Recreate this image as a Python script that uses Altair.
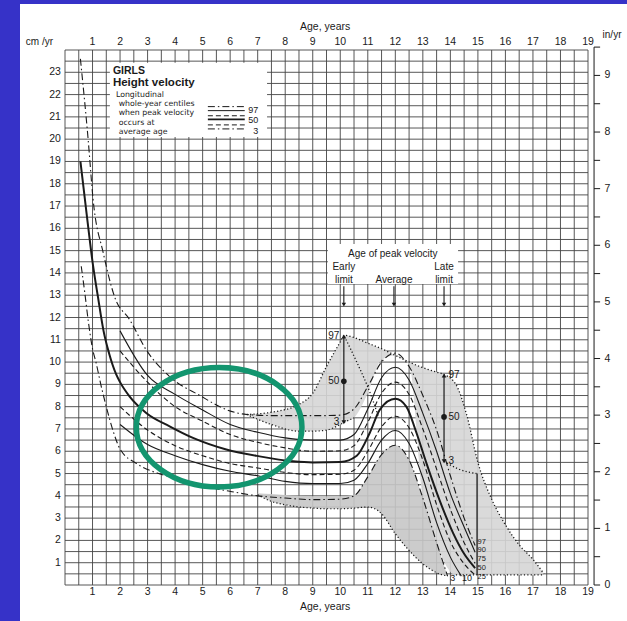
import altair as alt
import pandas as pd

# ---------------- values ----------------
AGE_LABELS = list(range(1, 20))     # age ticks, years
CM_LABELS = list(range(1, 24))      # left ticks, cm/yr
IN_LABELS = list(range(0, 10))      # right ticks, in/yr

# whole-year centile curves: age (years) and velocity (cm/yr)
P97_AGE = [0.56, 0.84, 1.02, 1.39, 1.81, 2.35, 2.95, 3.8, 4.9, 5.9, 6.6, 7.5, 8.5, 9.5,
           10.0, 10.5, 11.0, 11.5, 12.0, 12.5, 13.0, 13.5, 14.0, 14.5, 14.9]
P97_CM = [23.6, 20.0, 17.3, 14.9, 12.9, 11.9, 10.55, 9.35, 8.5, 7.85, 7.65, 7.6, 7.6, 7.6,
          7.62, 7.9, 8.9, 10.0, 10.4, 9.8, 8.5, 6.95, 4.9, 3.0, 1.77]

P90_AGE = [2.0, 3.0, 4.0, 5.0, 6.0, 7.0, 8.0, 9.0, 10.0, 10.5, 11.0, 11.5, 12.0, 12.5,
           13.0, 13.5, 14.0, 14.5, 14.9]
P90_CM = [11.4, 9.4, 8.55, 7.85, 7.2, 6.85, 6.6, 6.5, 6.5, 6.75, 7.9, 9.3, 9.77, 9.2,
          7.7, 6.0, 4.1, 2.6, 1.47]

P75_AGE = [2.0, 3.0, 4.0, 5.0, 6.0, 7.0, 8.0, 9.0, 10.0, 10.5, 11.0, 11.5, 12.0, 12.5,
           13.0, 13.5, 14.0, 14.5, 14.9]
P75_CM = [10.5, 9.1, 8.0, 7.35, 6.75, 6.4, 6.15, 6.0, 6.02, 6.25, 7.3, 8.6, 9.1, 8.55,
          7.0, 5.2, 3.4, 1.9, 0.97]

P50_AGE = [0.56, 0.8, 1.0, 1.2, 1.4, 1.6, 1.86, 2.0, 2.35, 2.95, 3.8, 4.65, 5.86, 7.07,
           8.28, 9.0, 10.0, 10.6, 11.07, 11.44, 12.0, 12.4, 12.77, 13.13, 13.6, 14.1, 14.5, 14.9]
P50_CM = [19.0, 16.5, 14.5, 12.9, 11.4, 10.4, 9.45, 9.1, 8.45, 7.72, 7.12, 6.6, 6.08, 5.77,
          5.55, 5.5, 5.52, 5.8, 6.82, 7.87, 8.35, 8.0, 6.82, 5.47, 3.83, 2.33, 1.4, 0.76]

P25_AGE = [2.0, 3.0, 4.0, 5.0, 6.0, 7.0, 8.0, 9.0, 10.0, 10.5, 11.0, 11.5, 12.0, 12.5,
           13.0, 13.5, 14.0, 14.5, 14.9]
P25_CM = [8.0, 6.95, 6.25, 5.8, 5.45, 5.25, 5.05, 4.95, 4.97, 5.15, 6.0, 7.1, 7.57, 7.05,
          5.6, 3.6, 1.95, 0.95, 0.45]

P10_AGE = [2.0, 3.0, 4.0, 5.0, 6.0, 7.0, 8.0, 9.0, 10.0, 10.5, 11.0, 11.5, 12.0, 12.5,
           13.0, 13.5, 14.0, 14.4]
P10_CM = [7.2, 6.3, 5.8, 5.4, 5.1, 4.9, 4.65, 4.55, 4.55, 4.7, 5.45, 6.5, 6.93, 6.35,
          4.8, 2.8, 1.25, 0.4]

P3_AGE = [0.59, 0.72, 0.85, 1.0, 1.13, 1.3, 1.5, 1.75, 2.0, 2.6, 3.4, 4.0, 5.0, 6.0, 7.0,
          8.0, 9.0, 10.0, 10.5, 11.0, 11.5, 12.0, 12.5, 13.0, 13.5, 13.9]
P3_CM = [14.3, 13.1, 11.8, 10.6, 9.97, 9.0, 8.0, 6.9, 6.1, 5.45, 5.0, 4.8, 4.45, 4.2, 4.0,
         3.9, 3.83, 3.85, 4.0, 4.85, 5.85, 6.27, 5.6, 3.9, 1.9, 0.4]

# spread of peak timing (stippled zone): upper envelope and lower edge
ZONE_AGE = [6.6, 7.5, 8.5, 9.0, 9.5, 10.0, 10.15, 10.5, 11.0, 11.5, 12.0, 12.5, 13.0,
            13.5, 13.75, 14.2, 14.6, 15.0, 15.5, 16.0, 16.5, 17.0, 17.4]
ZONE_TOP = [7.65, 7.75, 8.1, 8.6, 9.8, 10.9, 11.2, 11.1, 10.85, 10.6, 10.3, 10.0, 9.75,
            9.55, 9.45, 9.0, 7.6, 5.5, 3.85, 2.7, 1.8, 1.15, 0.5]
ZONE_LOW = [7.65, 7.2, 6.9, 6.9, 6.95, 7.2, 7.3, 7.5, 8.6, 10.1, 10.3, 9.9, 3.9,
            1.9, 1.1, 0.45, 0.45, 0.45, 0.45, 0.45, 0.45, 0.45, 0.5]

# hatched zone below the 3rd centile
HATCH_AGE = [7.0, 7.5, 8.0, 8.5, 9.0, 9.5, 10.0, 10.5, 11.0, 11.5, 12.0, 12.5, 13.0, 13.5, 13.9]
HATCH_TOP = [4.12, 4.08, 4.04, 4.0, 3.98, 3.98, 3.98, 4.05, 4.85, 5.85, 6.27, 5.6, 3.9, 1.9, 0.4]
HATCH_LOW = [4.05, 3.75, 3.6, 3.5, 3.45, 3.42, 3.42, 3.45, 3.5, 3.2, 2.3, 1.55, 0.95, 0.55, 0.4]

# early maturer 97th centile descent, late limit 3rd centile link
EARLY_DESC_AGE = [10.15, 10.6, 11.13, 11.4]
EARLY_DESC_CM = [11.15, 10.0, 8.47, 7.5]
LATE_LINK_AGE = [13.77, 14.3, 14.95]
LATE_LINK_CM = [5.55, 5.2, 5.0]

# age of peak velocity: early limit, average, late limit
PEAK_AGES = [10.13, 11.95, 13.77]
EARLY_AGE = 10.13
EARLY_CENT = ["97", "50", "3"]
EARLY_CM = [11.15, 9.14, 7.3]
LATE_AGE = 13.77
LATE_CENT = ["97", "50", "3"]
LATE_CM = [9.4, 7.54, 5.55]

END_LABELS = ["97", "90", "75", "50", "25"]
END_CM = [1.95, 1.55, 1.15, 0.75, 0.35]
FOOT_LABELS = ["3", "10"]
FOOT_AGE = [14.09, 14.6]

# key text
KEY_LINES = ["Longitudinal", "whole-year centiles", "when peak velocity", "occurs at", "average age"]
KEY_CM = [21.98, 21.57, 21.16, 20.74, 20.33]
KEY_CENT = ["97", "50", "3"]
KEY_CENT_CM = [21.3, 20.84, 20.37]

# ---------------- style ----------------
BLUE = "#3632c8"
INK = "#1a1a1a"
GRID = "#444444"
TEAL = "#13956f"
FONT = "Liberation Sans"
DASHDOT = [7, 3, 1.5, 3]
DASHED = [5, 3]
DOTTED = [1.2, 2.2]

XS = alt.Scale(domain=[0, 19], nice=False, zero=False)
YS = alt.Scale(domain=[0, 24], nice=False, zero=False)


def xq(f):
    return alt.X(f, type="quantitative", scale=XS, axis=None)


def yq(f):
    return alt.Y(f, type="quantitative", scale=YS, axis=None)


def line(ages, cms, width=1.1, dash=None, color=INK, interp="monotone"):
    kw = dict(color=color, strokeWidth=width, interpolate=interp)
    if dash:
        kw["strokeDash"] = dash
    df = pd.DataFrame({"age": ages, "cm": cms})
    return alt.Chart(df).mark_line(**kw).encode(x=xq("age"), y=yq("cm"))


def vrules(ages, lo, hi, width=0.9, color=GRID):
    df = pd.DataFrame({"age": ages, "lo": lo, "hi": hi})
    return alt.Chart(df).mark_rule(color=color, strokeWidth=width).encode(
        x=xq("age"), y=yq("lo"), y2="hi")


def hrules(cms, a0, a1, width=0.9, color=GRID):
    df = pd.DataFrame({"cm": cms, "a0": a0, "a1": a1})
    return alt.Chart(df).mark_rule(color=color, strokeWidth=width).encode(
        y=yq("cm"), x=xq("a0"), x2="a1")


def text(ages, cms, labels, size=10.5, align="center", weight="normal", font=FONT):
    df = pd.DataFrame({"age": ages, "cm": cms, "t": labels})
    return alt.Chart(df).mark_text(font=font, fontSize=size, align=align, baseline="middle",
                                   fontWeight=weight, color=INK).encode(
        x=xq("age"), y=yq("cm"), text="t:N")


def box(a0, a1, c0, c1):
    df = pd.DataFrame({"a0": [a0], "a1": [a1], "c0": [c0], "c1": [c1]})
    return alt.Chart(df).mark_rect(color="white").encode(
        x=xq("a0"), x2="a1", y=yq("c0"), y2="c1")


def marks(ages, cms, shape, size=30):
    df = pd.DataFrame({"age": ages, "cm": cms})
    return alt.Chart(df).mark_point(shape=shape, filled=True, size=size, color=INK,
                                    opacity=1).encode(x=xq("age"), y=yq("cm"))


layers = []

# white sheet on the blue slide
layers.append(alt.Chart(pd.DataFrame({"k": [0]})).mark_rect(color="white").encode(
    x=alt.value(-45), x2=alt.value(562), y=alt.value(-46), y2=alt.value(571)))

# chart grid: half-year and half-centimetre lines
half_years = [i * 0.5 for i in range(0, 39)]
half_cms = [i * 0.5 for i in range(0, 49)]
layers.append(vrules(half_years, 0.0, 24.0))
layers.append(hrules(half_cms, 0.0, 19.0))

# shaded zones
zone = pd.DataFrame({"age": ZONE_AGE, "top": ZONE_TOP, "low": ZONE_LOW})
layers.append(alt.Chart(zone).mark_area(color="#d6d6d6", interpolate="monotone", opacity=0.9).encode(
    x=xq("age"), y=yq("top"), y2="low"))
hatch = pd.DataFrame({"age": HATCH_AGE, "top": HATCH_TOP, "low": HATCH_LOW})
layers.append(alt.Chart(hatch).mark_area(color="#c6c6c6", interpolate="monotone", opacity=0.9).encode(
    x=xq("age"), y=yq("top"), y2="low"))

# dotted zone outlines
layers.append(line(ZONE_AGE, ZONE_TOP, width=1.3, dash=DOTTED))
layers.append(line(ZONE_AGE[:8], ZONE_LOW[:8], width=1.2, dash=DOTTED))
layers.append(line([14.2, 17.4], [0.45, 0.45], width=1.2, dash=DOTTED, interp="linear"))
layers.append(line(HATCH_AGE, HATCH_LOW, width=1.2, dash=DOTTED))
layers.append(line(EARLY_DESC_AGE, EARLY_DESC_CM, width=1.3, dash=DOTTED))
layers.append(line(LATE_LINK_AGE, LATE_LINK_CM, width=1.3, dash=DOTTED))
layers.append(vrules([14.97], 0.45, 5.0, width=1.3, color=INK))

# white panels for the key and the peak-age note
layers.append(box(1.63, 7.34, 20.1, 23.43))
layers.append(box(9.55, 14.28, 13.5, 15.3))

# centile curves
layers.append(line(P97_AGE, P97_CM, width=1.1, dash=DASHDOT))
layers.append(line(P90_AGE, P90_CM, width=1.1))
layers.append(line(P75_AGE, P75_CM, width=1.1, dash=DASHED))
layers.append(line(P50_AGE, P50_CM, width=2.0))
layers.append(line(P25_AGE, P25_CM, width=1.1, dash=DASHED))
layers.append(line(P10_AGE, P10_CM, width=1.1))
layers.append(line(P3_AGE, P3_CM, width=1.1, dash=DASHDOT))

# early / late limit arrows
layers.append(vrules([EARLY_AGE], EARLY_CM[2], EARLY_CM[0], width=1.2, color=INK))
layers.append(vrules([LATE_AGE], LATE_CM[2], LATE_CM[0], width=1.2, color=INK))
layers.append(marks([EARLY_AGE, LATE_AGE], [EARLY_CM[0], LATE_CM[0]], "triangle-up", 22))
layers.append(marks([EARLY_AGE, LATE_AGE], [EARLY_CM[2], LATE_CM[2]], "triangle-down", 22))
layers.append(marks([EARLY_AGE, LATE_AGE], [EARLY_CM[1], LATE_CM[1]], "circle", 32))
layers.append(text([9.97] * 3, EARLY_CM, EARLY_CENT, size=10, align="right"))
layers.append(text([13.93] * 3, LATE_CM, LATE_CENT, size=10, align="left"))

# peak-age note with its three arrows
layers.append(vrules(PEAK_AGES, 12.62, 13.4, width=1.1, color=INK))
layers.append(marks(PEAK_AGES, [12.58] * 3, "triangle-down", 20))
layers.append(text([11.91], [14.85], ["Age of peak velocity"], size=10))
layers.append(text([PEAK_AGES[0], PEAK_AGES[2]], [14.25, 14.25], ["Early", "Late"], size=10))
layers.append(text(PEAK_AGES, [13.68] * 3, ["limit", "Average", "limit"], size=10))

# curve end labels
layers.append(text([14.99] * 5, END_CM, END_LABELS, size=7.5, align="left"))
layers.append(text(FOOT_AGE, [0.31, 0.31], FOOT_LABELS, size=9))

# key
layers.append(text([1.74], [23.08], ["GIRLS"], size=10.5, align="left", weight="bold"))
layers.append(text([1.74], [22.5], ["Height velocity"], size=11.5, align="left", weight="bold"))
layers.append(text([1.85] + [1.95] * 4, KEY_CM, KEY_LINES, size=7.8, align="left",
                   font="DejaVu Sans"))
key_styles = [(21.46, DASHDOT, 1.0), (21.28, None, 1.0), (21.05, DASHED, 1.0),
              (20.89, None, 1.6), (20.64, DASHED, 1.0), (20.46, DASHDOT, 1.0)]
for cm, dash, w in key_styles:
    layers.append(line([5.19, 6.53], [cm, cm], width=w, dash=dash, interp="linear"))
layers.append(text([7.02] * 3, KEY_CENT_CM, KEY_CENT, size=9, align="right"))

# axes drawn as text around the grid
layers.append(text(AGE_LABELS, [24.36] * len(AGE_LABELS), [str(a) for a in AGE_LABELS], size=10.5))
layers.append(text(AGE_LABELS, [-0.3] * len(AGE_LABELS), [str(a) for a in AGE_LABELS], size=10.5))
layers.append(text([9.45], [25.05], ["Age, years"], size=10.5))
layers.append(text([9.45], [-0.99], ["Age, years"], size=10.5))
layers.append(text([-0.15] * len(CM_LABELS), CM_LABELS, [str(c) for c in CM_LABELS], size=10.5,
                   align="right"))
layers.append(text([-0.93], [24.36], ["cm /yr"], size=10))

# inch scale on the right
in_half = [i * 0.5 * 2.54 for i in range(0, 20)]
layers.append(vrules([19.22], 0.0, 9.5 * 2.54, width=1.0, color=INK))
layers.append(hrules(in_half, 19.22, 19.44, width=1.0, color=INK))
layers.append(text([19.6] * len(IN_LABELS), [i * 2.54 for i in IN_LABELS],
                   [str(i) for i in IN_LABELS], size=10.5, align="left"))
layers.append(text([19.53], [24.67], ["in/yr"], size=10, align="left"))

# highlight ring around the pre-pubertal plateau
RING = ("M 1 0 C 1 0.3988 0.5523 0.722 0 0.722 C -0.5523 0.722 -1 0.3988 -1 0 "
        "C -1 -0.3988 -0.5523 -0.722 0 -0.722 C 0.5523 -0.722 1 -0.3988 1 0 Z")
ring = pd.DataFrame({"age": [5.6], "cm": [7.08]})
layers.append(alt.Chart(ring).mark_point(shape=RING, size=27420, filled=False, stroke=TEAL,
                                         strokeWidth=5.5, opacity=1).encode(
    x=xq("age"), y=yq("cm")))

chart = alt.layer(*layers).properties(
    width=523, height=535,
    padding={"left": 65, "top": 50, "right": 39, "bottom": 36},
    autosize=alt.AutoSizeParams(type="none"),
    background=BLUE,
).configure_view(stroke=None)

chart.save("out.html", embed_options={"renderer": "svg", "actions": False})
